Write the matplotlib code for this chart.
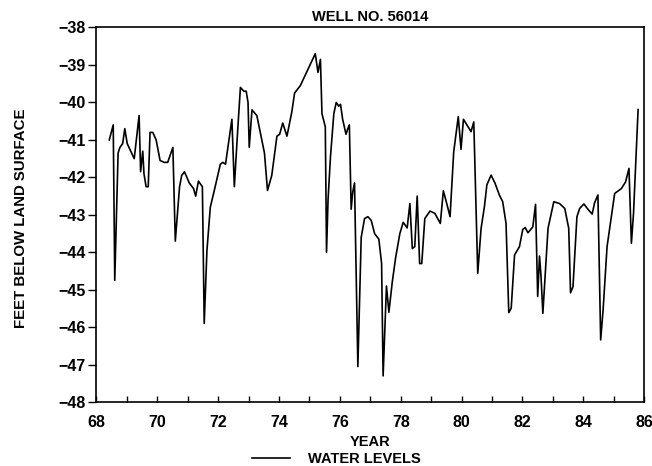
import matplotlib
matplotlib.use("Agg")
import matplotlib.pyplot as plt
from matplotlib.ticker import MultipleLocator

plt.rcParams['font.family'] = ['Liberation Sans', 'DejaVu Sans']

years = [68.42, 68.55, 68.60, 68.71, 68.77, 68.86, 68.93, 69.01, 69.24, 69.40,
         69.45, 69.52, 69.56, 69.63, 69.70, 69.76, 69.85, 69.96, 70.09, 70.23,
         70.34, 70.51, 70.59, 70.73, 70.80, 70.89, 71.05, 71.19, 71.26, 71.35,
         71.48, 71.54, 71.63, 71.74, 71.90, 72.07, 72.15, 72.24, 72.45, 72.53,
         72.64, 72.73, 72.84, 72.92, 72.98, 73.02, 73.11, 73.27, 73.52, 73.62,
         73.76, 73.93, 74.02, 74.12, 74.26, 74.42, 74.51, 74.70, 75.19, 75.28,
         75.36, 75.41, 75.52, 75.56, 75.61, 75.69, 75.80, 75.88, 75.96, 76.02,
         76.09, 76.20, 76.26, 76.31, 76.37, 76.42, 76.48, 76.59, 76.70, 76.81,
         76.92, 77.03, 77.14, 77.28, 77.37, 77.42, 77.53, 77.61, 77.72, 77.83,
         77.97, 78.08, 78.21, 78.30, 78.38, 78.46, 78.54, 78.62, 78.69, 78.79,
         78.96, 79.12, 79.30, 79.40, 79.48, 79.62, 79.74, 79.89, 79.98, 80.06,
         80.31, 80.40, 80.53, 80.64, 80.75, 80.83, 80.97, 81.10, 81.24, 81.35,
         81.46, 81.55, 81.63, 81.74, 81.90, 82.01, 82.09, 82.18, 82.34, 82.43,
         82.50, 82.56, 82.61, 82.67, 82.84, 83.03, 83.22, 83.39, 83.52, 83.58,
         83.66, 83.79, 83.88, 84.02, 84.15, 84.29, 84.37, 84.48, 84.57, 84.65,
         84.78, 84.92, 85.03, 85.25, 85.39, 85.50, 85.58, 85.65, 85.80]

levels = [-41.0, -40.6, -44.75, -41.35, -41.2, -41.1, -40.7, -41.1, -41.5, -40.35,
          -41.85, -41.3, -41.9, -42.25, -42.25, -40.8, -40.8, -41.0, -41.55, -41.6,
          -41.6, -41.2, -43.7, -42.25, -41.95, -41.85, -42.15, -42.3, -42.5, -42.1,
          -42.25, -45.9, -43.95, -42.8, -42.25, -41.65, -41.6, -41.65, -40.45, -42.25,
          -40.75, -39.6, -39.7, -39.7, -40.0, -41.2, -40.2, -40.35, -41.35, -42.35,
          -41.95, -40.9, -40.85, -40.55, -40.9, -40.25, -39.75, -39.55, -38.7, -39.2,
          -38.85, -40.3, -40.65, -44.0, -42.6, -41.45, -40.3, -40.0, -40.1, -40.05,
          -40.45, -40.85, -40.7, -40.6, -42.85, -42.4, -42.15, -47.05, -43.6, -43.1,
          -43.05, -43.15, -43.5, -43.65, -44.3, -47.3, -44.9, -45.6, -44.8, -44.15,
          -43.5, -43.2, -43.35, -42.7, -43.9, -43.85, -42.5, -44.3, -44.3, -43.1,
          -42.9, -42.96, -43.23, -42.36, -42.6, -43.05, -41.32, -40.38, -41.25, -40.45,
          -40.78, -40.52, -44.56, -43.36, -42.78, -42.2, -41.94, -42.16, -42.47, -42.65,
          -43.23, -45.61, -45.49, -44.07, -43.85, -43.39, -43.34, -43.48, -43.32, -42.72,
          -45.18, -44.1, -44.65, -45.63, -43.36, -42.65, -42.7, -42.83, -43.36, -45.08,
          -44.92, -43.05, -42.83, -42.71, -42.85, -42.98, -42.68, -42.47, -46.34, -45.54,
          -43.85, -43.05, -42.43, -42.3, -42.12, -41.76, -43.76, -42.96, -40.19]

title = "WELL NO. 56014"
xlabel = "YEAR"
ylabel = "FEET BELOW LAND SURFACE"
series_label = "WATER LEVELS"
xticks = list(range(68, 87, 2))
yticks = list(range(-48, -37, 1))

fig = plt.figure(figsize=(6.52, 4.66), dpi=100)
ax = fig.add_axes([0.148, 0.137, 0.840, 0.804])

line, = ax.plot(years, levels, color='black', linewidth=1.2, label=series_label)

ax.set_xlim(68, 86)
ax.set_ylim(-48, -38)
ax.set_xticks(xticks)
ax.xaxis.set_minor_locator(MultipleLocator(1))
ax.set_yticks(yticks)
ax.set_yticklabels([f"\u2212{abs(v)}" for v in yticks])

ax.tick_params(axis='x', which='both', direction='in', length=4, width=1.0,
               labelsize=11.5, pad=9)
ax.tick_params(axis='y', which='both', direction='out', length=6, width=1.0,
               labelsize=11.5, pad=2)
for lab in ax.get_xticklabels() + ax.get_yticklabels():
    lab.set_fontweight('bold')

for s in ax.spines.values():
    s.set_linewidth(1.2)

ax.set_title(title, fontsize=10.5, fontweight='bold', pad=5)
ax.set_xlabel(xlabel, fontsize=10.5, fontweight='bold', labelpad=4)
ax.set_ylabel(ylabel, fontsize=10.8, fontweight='bold')
ax.yaxis.set_label_coords(-0.125, 0.49)

leg = fig.legend(handles=[line], loc='center', bbox_to_anchor=(0.516, 0.015),
                 frameon=False, handlelength=2.6, handletextpad=1.2,
                 prop={'size': 10.5, 'weight': 'bold'}, borderpad=0)

fig.savefig("out.png", dpi=100)
